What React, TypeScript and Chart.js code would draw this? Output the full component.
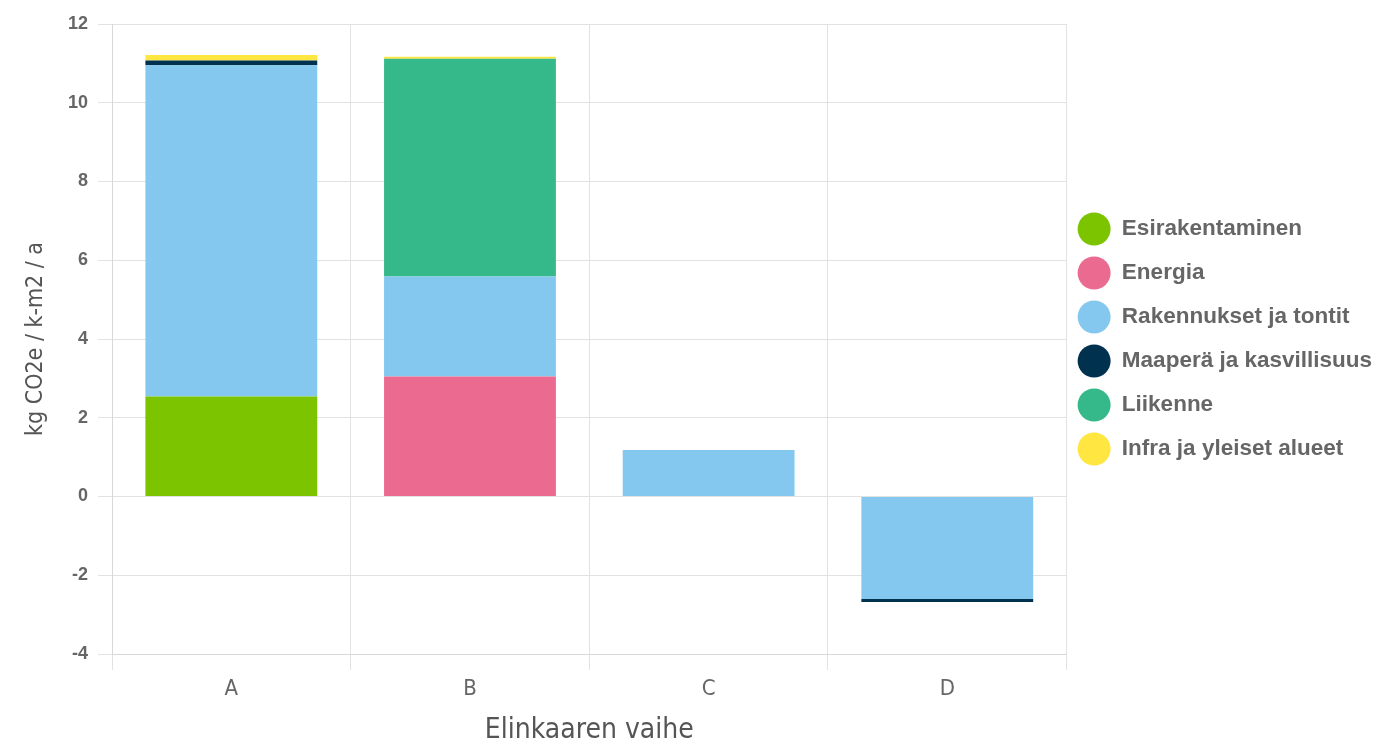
import React, { useEffect, useRef } from "react";
import { Chart, registerables } from "chart.js";

Chart.register(...registerables);

const categories = ["A", "B", "C", "D"];
const seriesNames = [
  "Esirakentaminen",
  "Energia",
  "Rakennukset ja tontit",
  "Maaperä ja kasvillisuus",
  "Liikenne",
  "Infra ja yleiset alueet",
];
const esirakentaminen = [2.54, 0, 0, 0];
const energia = [0, 3.05, 0, 0];
const rakennukset = [8.41, 2.54, 1.18, -2.6];
const maapera = [0.12, 0, 0, -0.08];
const liikenne = [0, 5.53, 0, 0];
const infra = [0.14, 0.05, 0, 0];
const seriesColors = ["#7dc400", "#eb6a8f", "#85c8ef", "#00324f", "#36b98a", "#ffe640"];
const yTitle = "kg CO2e / k-m2 / a";
const xTitle = "Elinkaaren vaihe";

const condensed = "'Liberation Sans Narrow', 'DejaVu Sans Condensed', 'Roboto', sans-serif";
const sans = "'Liberation Sans', Arial, sans-serif";

export default function App() {
  const ref = useRef<HTMLCanvasElement | null>(null);
  useEffect(() => {
    document.body.style.margin = "0";
    const values = [esirakentaminen, energia, rakennukset, maapera, liikenne, infra];
    const chart = new Chart(ref.current!, {
      type: "bar",
      data: {
        labels: categories,
        datasets: seriesNames.map((name, i) => ({
          label: name,
          data: values[i],
          backgroundColor: seriesColors[i],
          borderWidth: 0,
          stack: "s",
        })),
      },
      options: {
        animation: false,
        responsive: true,
        maintainAspectRatio: false,
        layout: { padding: { top: 24, left: 0, right: 0, bottom: 0 } },
        plugins: {
          tooltip: { enabled: false },
          legend: {
            position: "right",
            fullSize: false,
            align: "center",
            labels: {
              boxWidth: 33,
              boxHeight: 33,
              useBorderRadius: true,
              borderRadius: 16.5,
              padding: 11,
              color: "#666",
              font: { family: sans, size: 22.5, weight: "bold" },
            },
          },
        },
        scales: {
          x: {
            stacked: true,
            grid: { color: "#e2e2e2", tickLength: 16, offset: true },
            border: { color: "#d8d8d8" },
            ticks: { color: "#666", font: { family: condensed, size: 22 }, padding: 6 },
            title: {
              display: true,
              text: xTitle,
              color: "#555",
              font: { family: condensed, size: 28 },
              padding: { top: 0, bottom: 0 },
            },
            afterFit: (s: any) => {
              s.height = 94;
            },
          },
          y: {
            stacked: true,
            min: -4,
            max: 12,
            ticks: { stepSize: 2, color: "#666", font: { family: sans, size: 18, weight: "bold" }, padding: 10 },
            grid: { color: "#e2e2e2", tickLength: 14 },
            border: { color: "#d8d8d8" },
            title: {
              display: true,
              text: yTitle,
              color: "#555",
              font: { family: condensed, size: 23 },
              padding: { top: 22, bottom: 0 },
            },
            afterFit: (s: any) => {
              s.width = 112;
            },
          },
        },
      },
    });
    return () => chart.destroy();
  }, []);
  return (
    <div style={{ position: "absolute", left: 0, top: 0, width: 1382, height: 748 }}>
      <canvas ref={ref} />
    </div>
  );
}
